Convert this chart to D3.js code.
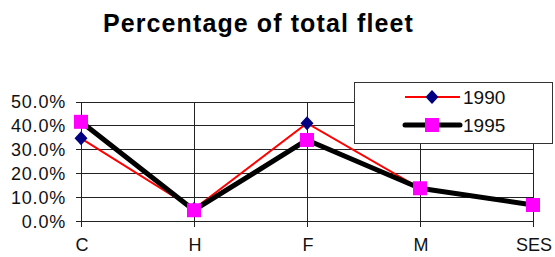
<!DOCTYPE html>
<html>
<head>
<meta charset="utf-8">
<script src="https://cdn.jsdelivr.net/npm/d3@7"></script>
<style>
  body { margin: 0; background: #fff; }
  svg { display: block; font-family: "Liberation Sans", Arial, sans-serif; }
</style>
</head>
<body>
<svg width="555" height="257"></svg>
<script>
const categories = ["C", "H", "F", "M", "SES"];
const values1990 = [0.346, 0.05, 0.409, 0.137, 0.067];
const values1995 = [0.415, 0.045, 0.339, 0.137, 0.067];
const yTicks = [0, 0.1, 0.2, 0.3, 0.4, 0.5];
const seriesNames = ["1990", "1995"];

const svg = d3.select("svg");

const x = d3.scalePoint().domain(categories).range([81, 533]);
const y = d3.scaleLinear().domain([0, 0.5]).range([221, 101.5]);

// title
svg.append("text")
    .attr("x", 103).attr("y", 32)
    .style("font-size", "25px").style("font-weight", "bold")
    .style("letter-spacing", "1.1px")
    .text("Percentage of total fleet");

// horizontal gridlines
svg.append("g").selectAll("line").data(yTicks).enter().append("line")
    .attr("x1", x.range()[0]).attr("x2", x.range()[1])
    .attr("y1", (d) => Math.round(y(d)) + 0.5).attr("y2", (d) => Math.round(y(d)) + 0.5)
    .style("stroke", "#222").style("stroke-width", 1);

// vertical gridlines
svg.append("g").selectAll("line").data(categories).enter().append("line")
    .attr("x1", (d) => Math.round(x(d)) + 0.5).attr("x2", (d) => Math.round(x(d)) + 0.5)
    .attr("y1", Math.round(y(0.5)) + 0.5).attr("y2", Math.round(y(0)) + 6)
    .style("stroke", "#222").style("stroke-width", 1);

// y ticks + labels
const yAxis = svg.append("g");
yAxis.selectAll("line").data(yTicks).enter().append("line")
    .attr("x1", 76).attr("x2", 81)
    .attr("y1", (d) => Math.round(y(d)) + 0.5).attr("y2", (d) => Math.round(y(d)) + 0.5)
    .style("stroke", "#222");
yAxis.selectAll("text").data(yTicks).enter().append("text")
    .attr("x", 66).attr("y", (d) => y(d) + 6.5)
    .attr("text-anchor", "end")
    .style("font-size", "18px").style("letter-spacing", "0.8px")
    .style("fill", "#111")
    .text((d) => d3.format(".1%")(d));

// x labels
svg.append("g").selectAll("text").data(categories).enter().append("text")
    .attr("x", (d) => x(d) + 1).attr("y", 251)
    .attr("text-anchor", "middle")
    .style("font-size", "18px").style("fill", "#111")
    .text((d) => d);

const line = d3.line().x((d, i) => x(categories[i])).y((d) => y(d));

function diamond(g, cx, cy) {
    g.append("path")
        .attr("d", `M${cx},${cy - 7}L${cx + 6.5},${cy}L${cx},${cy + 7}L${cx - 6.5},${cy}Z`)
        .style("fill", "#000080");
}
function square(g, cx, cy) {
    g.append("rect")
        .attr("x", cx - 7).attr("y", cy - 7).attr("width", 14).attr("height", 14)
        .style("fill", "#ff00ff");
}

// 1990 series
const s1 = svg.append("g");
s1.append("path").datum(values1990).attr("d", line)
    .style("fill", "none").style("stroke", "#ff0000").style("stroke-width", 2);
values1990.forEach((v, i) => diamond(s1, x(categories[i]), y(v)));

// 1995 series
const s2 = svg.append("g");
s2.append("path").datum(values1995).attr("d", line)
    .style("fill", "none").style("stroke", "#000").style("stroke-width", 5)
    .style("stroke-linejoin", "round");
values1995.forEach((v, i) => square(s2, x(categories[i]), y(v)));

// legend
const legend = svg.append("g");
legend.append("rect")
    .attr("x", 354.5).attr("y", 82.5).attr("width", 198).attr("height", 61)
    .style("fill", "#fff").style("stroke", "#333");
const rows = [97, 125];
legend.append("line").attr("x1", 405).attr("x2", 460).attr("y1", rows[0]).attr("y2", rows[0])
    .style("stroke", "#ff0000").style("stroke-width", 2);
diamond(legend, 432, rows[0]);
legend.append("line").attr("x1", 405).attr("x2", 460).attr("y1", rows[1]).attr("y2", rows[1])
    .style("stroke", "#000").style("stroke-width", 5).style("stroke-linecap", "round");
square(legend, 432, rows[1]);
legend.selectAll("text.lbl").data(seriesNames).enter().append("text")
    .attr("x", 463).attr("y", (d, i) => rows[i] + 7)
    .style("font-size", "19px").style("fill", "#111")
    .text((d) => d);
</script>
</body>
</html>
